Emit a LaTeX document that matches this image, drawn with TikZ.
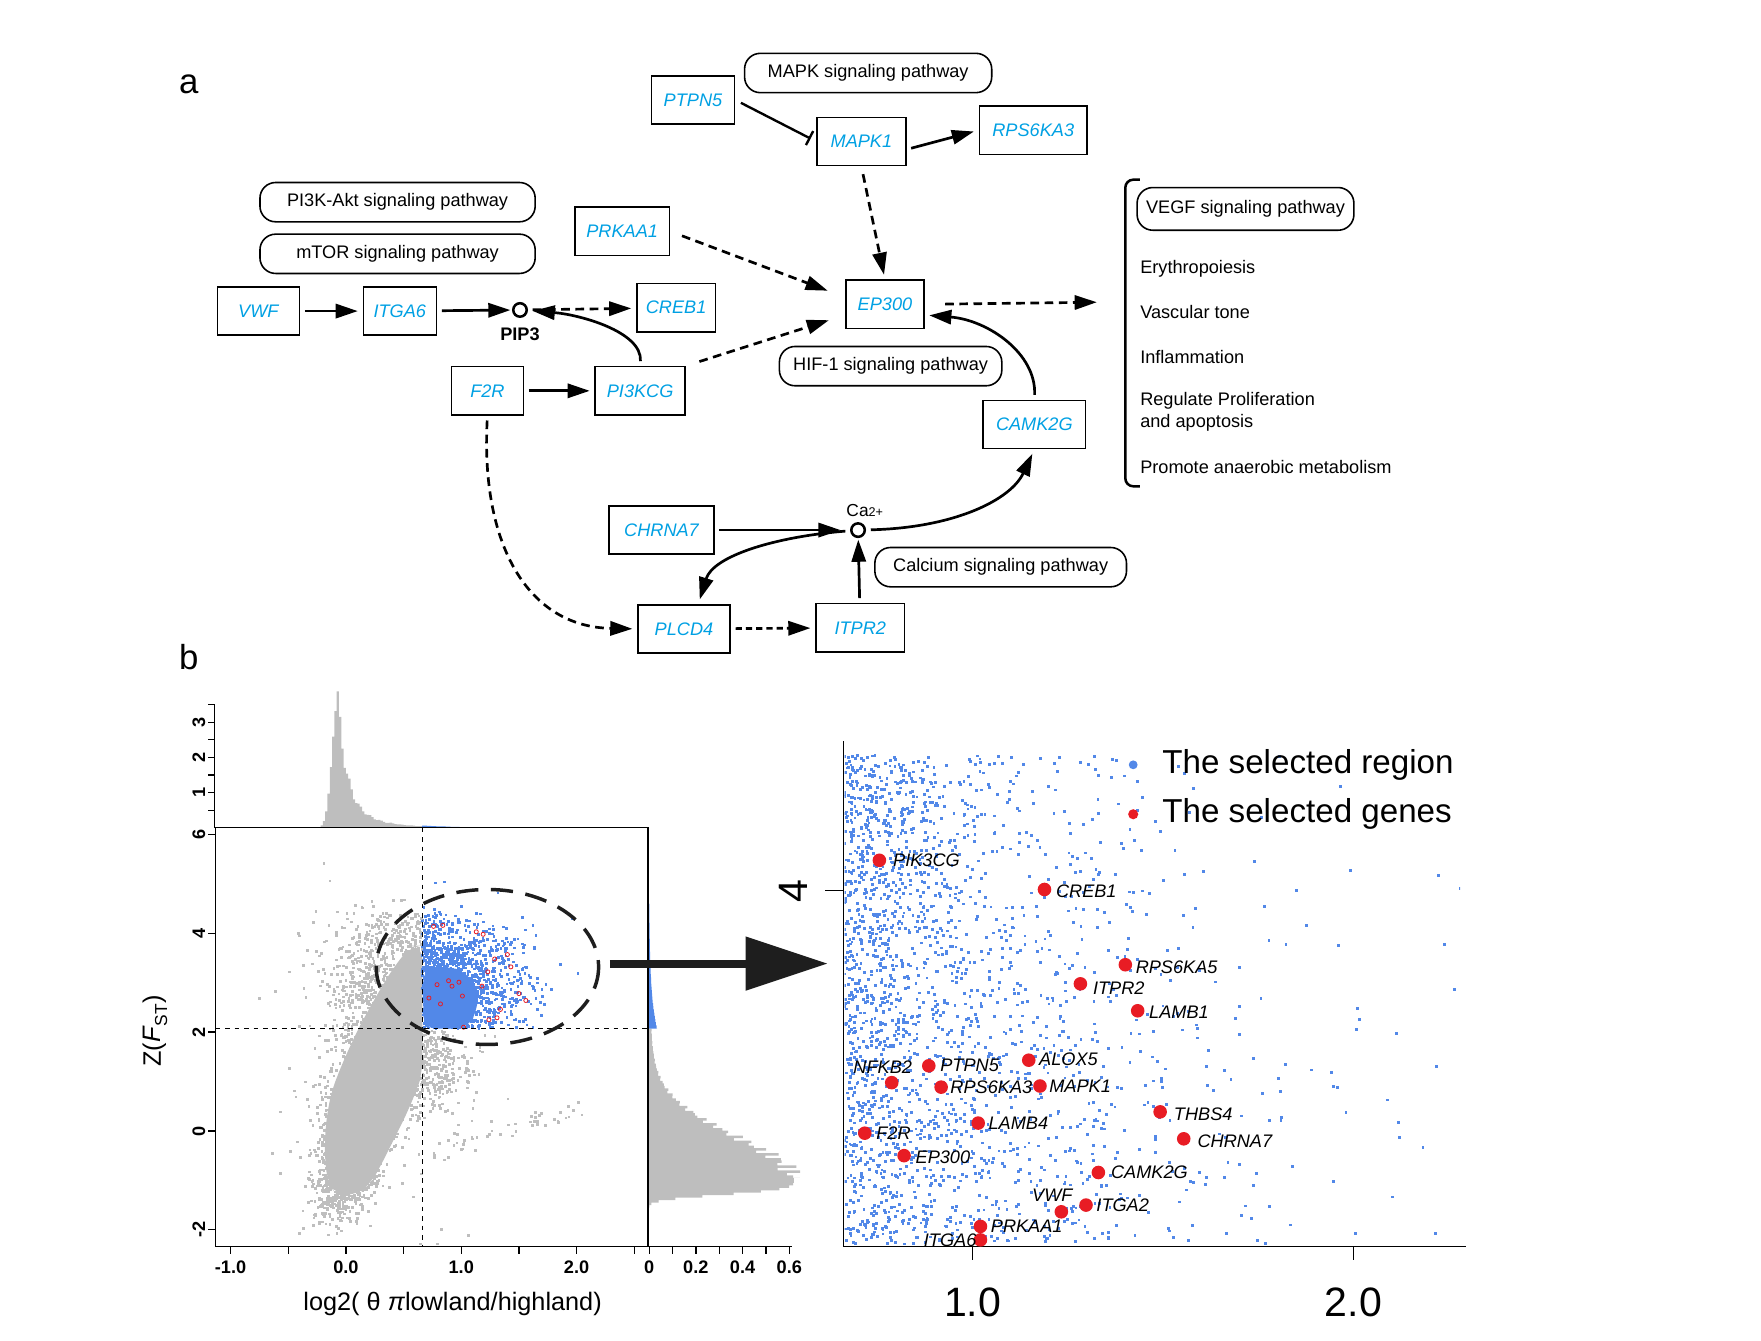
\documentclass[tikz,border=0pt]{standalone}
\usepackage{fontspec}
\setmainfont{Liberation Sans}
\usetikzlibrary{arrows.meta}
\definecolor{GeneClr}{RGB}{0,160,227}
\definecolor{RegionClr}{RGB}{82,136,232}
\definecolor{CloudClr}{RGB}{190,190,190}
\definecolor{GenesClr}{RGB}{232,28,36}
\definecolor{RingClr}{RGB}{30,30,30}

\newcommand{\nrnd}[1]{\pgfmathsetmacro#1{(rnd+rnd+rnd+rnd-2)*1.732}}
\newcommand{\scatpt}{%
  \pgfmathtruncatemacro\sel{(\px>0.66)*(\py>2.07)}%
  \ifnum\sel>0 \def\ptclr{RegionClr}\else\def\ptclr{CloudClr}\fi
  \fill[fill=\ptclr] ({308+102.7*(\px)},{1007-44*(\py)}) ++(-0.85pt,-0.85pt) rectangle ++(1.7pt,1.7pt);}

\tikzset{
  gene/.style={draw, line width=1pt, minimum height=1.075cm, inner sep=2pt, text=GeneClr,
    font=\fontsize{11.5}{13}\selectfont\itshape},
  pathway/.style={draw, line width=1pt, rounded corners=0.35cm, minimum height=0.875cm,
    font=\fontsize{11.5}{13}\selectfont},
  effect/.style={anchor=west, inner sep=0pt, align=left, font=\fontsize{11.5}{14}\selectfont},
  hub/.style={circle, draw, line width=1.6pt, minimum size=0.3cm, inner sep=0pt},
  act/.style={line width=1.7pt, -{Triangle[length=14pt,width=9pt]}, shorten <=3pt, shorten >=3pt},
  dashact/.style={act, dash pattern=on 5.5pt off 3.5pt},
  inhib/.style={line width=1.5pt, -{Bar[width=10pt]}, shorten <=4pt, shorten >=4pt},
  ticklbl/.style={font=\fontsize{11.5}{13}\selectfont\bfseries, inner sep=1pt},
  genelbl/.style={font=\fontsize{11.5}{13}\selectfont\itshape, inner sep=0pt},
  biglbl/.style={font=\fontsize{26}{28}\selectfont, inner sep=1pt},
}

\begin{document}
\begin{tikzpicture}[x=0.025cm, y=-0.025cm]
\useasboundingbox (0,0) rectangle (1568,1194);
\pgfmathsetseed{2718}

\node[font=\fontsize{22}{24}\selectfont] (lbla) at (168,75) {a};
\node[font=\fontsize{22}{24}\selectfont] (lblb) at (168,585) {b};

% genes
\node[gene, minimum width=1.85cm] (ptpn5) at (617,89) {PTPN5};
\node[gene, minimum width=1.975cm] (mapk1) at (767,126) {MAPK1};
\node[gene, minimum width=2.4cm] (rps6ka3) at (920,116) {RPS6KA3};
\node[gene, minimum width=2.1cm] (prkaa1) at (554,206) {PRKAA1};
\node[gene, minimum width=1.825cm] (vwf) at (230,277) {VWF};
\node[gene, minimum width=1.625cm] (itga6) at (356,277) {ITGA6};
\node[gene, minimum width=1.75cm] (creb1) at (602,274) {CREB1};
\node[gene, minimum width=1.725cm] (ep300) at (788,271) {EP300};
\node[gene, minimum width=1.6cm] (f2r) at (434,348) {F2R};
\node[gene, minimum width=2cm] (pi3kcg) at (570,348) {PI3KCG};
\node[gene, minimum width=2.275cm] (camk2g) at (921,378) {CAMK2G};
\node[gene, minimum width=2.325cm] (chrna7) at (589,472) {CHRNA7};
\node[gene, minimum width=2.05cm] (plcd4) at (609,560) {PLCD4};
\node[gene, minimum width=1.975cm] (itpr2) at (766,559) {ITPR2};

% pathways
\node[pathway, minimum width=5.5cm] (mapkpw) at (773,65) {MAPK signaling pathway};
\node[pathway, minimum width=6.125cm] (pi3kpw) at (354,180) {PI3K-Akt signaling pathway};
\node[pathway, minimum width=6.125cm] (mtorpw) at (354,226) {mTOR signaling pathway};
\node[pathway, minimum width=4.95cm] (hifpw) at (793,326) {HIF-1 signaling pathway};
\node[pathway, minimum width=5.6cm] (calpw) at (891,505) {Calcium signaling pathway};
\node[pathway, minimum width=4.825cm, minimum height=0.95cm] (vegfpw) at (1109,186) {VEGF signaling pathway};

\node[hub] (pip3) at (463,276) {};
\node[font=\fontsize{11.5}{13}\selectfont\bfseries] (pip3lbl) at (463,298) {PIP3};
\node[hub] (ca) at (764,472) {};
\node[font=\fontsize{11}{13}\selectfont, inner sep=0pt] (calbl) at (770,455) {Ca{\fontsize{8}{9}\selectfont 2+}};

\node[effect] (eff1) at (1015,239) {Erythropoiesis};
\node[effect] (eff2) at (1015,278) {Vascular tone};
\node[effect] (eff3) at (1015,318) {Inflammation};
\node[effect] (eff4) at (1015,367) {Regulate Proliferation\\and apoptosis};
\node[effect] (eff5) at (1015,416) {Promote anaerobic metabolism};
\draw[line width=1.6pt, rounded corners=5pt] (1015,160) -- (1002,160) -- (1002,433) -- (1015,433);
\coordinate (brk) at (985,269);

\draw[inhib] (ptpn5.east) -- (mapk1.west);
\draw[act] (mapk1.-10) -- (rps6ka3.west);
\draw[dashact, shorten <=5pt] (mapk1.south) -- (ep300.north);
\draw[dashact, shorten <=8pt, shorten >=12pt] (prkaa1.east) -- (ep300.170);
\draw[dashact, shorten <=9pt, shorten >=11pt] (pi3kcg.north east) -- (ep300.195);
\draw[dashact, shorten <=13pt, shorten >=6pt] (ep300.east) -- (brk);
\draw[act] (vwf) -- (itga6);
\draw[act, shorten >=1pt] (itga6) -- (pip3);
\draw[dashact] (pip3) -- (creb1);
\draw[act] (pi3kcg.north) .. controls (572,295) and (515,280) .. (pip3);
\draw[act] (f2r) -- (pi3kcg);
\draw[act] (camk2g.north) .. controls (923,315) and (880,285) .. (ep300.-15);
\draw[dashact] (f2r.south) .. controls (428,485) and (470,558) .. (plcd4.west);
\draw[act, shorten >=6pt] (chrna7) -- (ca);
\draw[act] (ca) .. controls (850,470) and (900,445) .. (camk2g.south);
\draw[act] (ca) .. controls (690,478) and (635,495) .. (plcd4.60);
\draw[act, shorten >=1pt] (itpr2) -- (ca);
\draw[dashact, dash pattern=on 4pt off 2.5pt] (plcd4) -- (itpr2);

% histograms
\fill[CloudClr] (271,737) -- plot[const plot, domain=-0.36:-0.08, samples=15]
  ({308+102.7*(\x)},{737-31.3*3.6*exp(-((\x+0.08)/0.07)*((\x+0.08)/0.07))})
  -- plot[const plot, domain=-0.08:0.66, samples=38]
  ({308+102.7*(\x)},{737-31.3*(2.6*exp(-(\x+0.08)/0.07)+exp(-(\x+0.08)/0.2)+0.04*exp(-(\x)/0.8))*(1+0.1*sin(4000*(\x)))})
  -- (376,737) -- cycle;
\fill[RegionClr] (376,737) -- plot[const plot, domain=0.66:1.6, samples=24]
  ({308+102.7*(\x)},{737-31.3*0.06*exp(-(\x-0.66)/0.3)}) -- (473,737) -- cycle;
\fill[CloudClr] (578,1075) -- plot[const plot, variable=\t, domain=-1.55:-0.95, samples=13]
  ({578+208*0.62*exp(-(((\t+0.95)/0.35)*((\t+0.95)/0.35))*(((\t+0.95)/0.35)*((\t+0.95)/0.35)))},{1007-44*(\t)})
  -- plot[const plot, variable=\t, domain=-0.95:2.07, samples=61]
  ({578+208*(0.56*exp(-((\t+0.95)/1.2)*((\t+0.95)/1.2))+0.06*exp(-(\t+0.95)/1.6))*(1+0.08*sin(3000*(\t)))},{1007-44*(\t)})
  -- (578,916) -- cycle;
\fill[RegionClr] (578,916) -- plot[const plot, variable=\t, domain=2.07:4.6, samples=40]
  ({578+208*0.035*exp(-(\t-2.07)/0.7)},{1007-44*(\t)}) -- (578,805) -- cycle;

% scatter
\begin{scope}
\clip (192,737) rectangle (577,1110);
\fill[CloudClr, rounded corners=8pt] (300,1064) -- (318,1064) -- (330,1054) -- (340,1036)
  -- (352,1012) -- (362,992) -- (372,968) -- (376,955) -- (376,842) -- (366,842) -- (350,862)
  -- (335,887) -- (320,914) -- (306,944) -- (295,972) -- (290,1000) -- (289,1030) -- (292,1054) -- cycle;
\fill[RegionClr, rounded corners=8pt] (377,916) -- (416,916) -- (425,900) -- (426,881)
  -- (416,866) -- (398,860) -- (377,862) -- cycle;
\foreach \i in {1,...,1250}{\nrnd\na \nrnd\nb
  \pgfmathsetmacro\py{-0.7+0.5*\nb}
  \pgfmathsetmacro\px{0.03+0.13*\na+0.12*(\py+0.7)}
  \scatpt}
\foreach \i in {1,...,1150}{\nrnd\na
  \pgfmathsetmacro\py{-0.5+4.9*rnd}
  \pgfmathsetmacro\px{0.06+0.1*(\py+0.5)+0.21*\na}
  \scatpt}
\foreach \i in {1,...,350}{\nrnd\na \nrnd\nb
  \pgfmathsetmacro\py{1.3+0.45*\nb}
  \pgfmathsetmacro\px{0.55+0.25*abs(\na)}
  \scatpt}
\foreach \i in {1,...,300}{\nrnd\na \nrnd\nb
  \pgfmathsetmacro\py{3.0+0.7*\nb}
  \pgfmathsetmacro\px{0.2+0.22*\na}
  \scatpt}
\foreach \i in {1,...,200}{\nrnd\na \nrnd\nb
  \pgfmathsetmacro\py{1.4+1.5*\nb}
  \pgfmathsetmacro\px{0.25+0.4*\na}
  \scatpt}
\foreach \i in {1,...,50}{\nrnd\nb
  \pgfmathsetmacro\pu{rnd}
  \pgfmathsetmacro\px{0.75+1.3*\pu}
  \pgfmathsetmacro\py{-0.45+0.95*\pu+0.12*\nb}
  \scatpt}
\foreach \i in {1,...,1200}{\nrnd\na \nrnd\nb
  \pgfmathsetmacro\px{0.665+0.42*abs(\na)}
  \pgfmathsetmacro\py{3.05+0.55*\nb}
  \pgfmathsetmacro\py{\py<2.07 ? 4.14-\py : \py}
  \scatpt}
\foreach \gx/\gy in {0.76/4.14,0.84/4.16,1.13/4.03,1.19/3.98,1.40/3.57,1.29/3.48,1.43/3.32,
  1.23/3.22,0.89/3.04,0.98/3.01,0.79/2.96,0.92/2.93,1.18/2.93,1.50/2.78,1.01/2.73,0.72/2.69,
  0.82/2.57,1.56/2.64,1.34/2.46,1.31/2.29,1.24/2.25,1.02/2.10}
  \draw[GenesClr, line width=0.5pt] ({308+102.7*\gx},{1007-44*\gy}) circle[radius=1.3pt];
\end{scope}

\draw[line width=0.8pt] (192,737) rectangle (577,1110);
\draw[dashed, line width=0.6pt] (376,737) -- (376,1110);
\draw[dashed, line width=0.6pt] (192,916) -- (577,916);

% axes
\draw[line width=0.8pt] (191,628) -- (191,737);
\foreach \v in {0.5,1,...,3.5} \draw[line width=0.8pt] (191,{737-31.3*\v}) -- (185,{737-31.3*\v});
\foreach \v in {1,2,3} \node[ticklbl, rotate=90] (hl\v) at (177,{737-31.3*\v}) {\v};
\foreach \v in {-2,0,2,4,6}{
  \draw[line width=0.8pt] (192,{1007-44*\v}) -- (185,{1007-44*\v});
  \node[ticklbl, rotate=90] (yl\v) at (177,{1007-44*\v}) {\v};}
\foreach \v in {-1,-0.5,...,2.5} \draw[line width=0.8pt] ({308+102.7*\v},1110) -- ({308+102.7*\v},1117);
\foreach \v/\s in {-1/-1.0,0/0.0,1/1.0,2/2.0} \node[ticklbl] (xl\v) at ({308+102.7*\v},1128) {\s};
\draw[line width=0.8pt] (578,1110) -- (705,1110);
\foreach \v in {0,0.1,...,0.61} \draw[line width=0.8pt] ({578+208*\v},1110) -- ({578+208*\v},1117);
\foreach \v/\s in {0/0,0.2/0.2,0.4/0.4,0.6/0.6} \node[ticklbl] (hx\s) at ({578+208*\v},1128) {\s};
\node[font=\fontsize{16}{18}\selectfont] (xlab) at (403,1161) {log2( θ \textit{π}lowland/highland)};
\node[font=\fontsize{16}{18}\selectfont, rotate=90] (ylab) at (138,918)
  {Z(\textit{F}\raisebox{-0.25em}{\fontsize{11}{12}\selectfont ST})};

\draw[RingClr, line width=2.2pt, dash pattern=on 14pt off 8pt] (434,861) ellipse[x radius=99, y radius=69];
\coordinate (ellE) at (543,858);
\coordinate (zoomW) at (737,858);
\draw[RingClr, line width=5pt, -{Triangle[length=52pt,width=33pt]}] (ellE) -- (zoomW);

% zoomed panel
\begin{scope}
\clip (752,668) rectangle (1300,1108);
\foreach \i in {1,...,2200}{
  \pgfmathsetmacro\pu{rnd}
  \pgfmathsetmacro\py{672+436*\pu}
  \pgfmathsetmacro\px{752-(70+60*\pu)*ln(0.001+0.999*rnd)}
  \fill[RegionClr] (\px,\py) ++(-0.9pt,-0.9pt) rectangle ++(1.8pt,1.8pt);}
\end{scope}
\draw[line width=1pt] (751,660) -- (751,1110) -- (1305,1110);
\draw[line width=1pt] (866,1110) -- (866,1122);
\draw[line width=1pt] (1205,1110) -- (1205,1122);
\draw[line width=1pt] (735,793) -- (751,793);
\node[biglbl] (zx1) at (866,1160) {1.0};
\node[biglbl] (zx2) at (1205,1160) {2.0};
\node[biglbl, rotate=90] (zy4) at (706,793) {4};

\foreach \dx/\dy/\lx/\ly/\gname in {783/766/795/766/PIK3CG, 930/792/940/794/CREB1,
  1002/859/1011/861/RPS6KA5, 962/876/973/880/ITPR2, 1013/900/1023/901/LAMB1,
  916/944/925/943/ALOX5, 827/949/837/949/PTPN5, 838/968/846/968/RPS6KA3,
  926/967/934/967/MAPK1, 1033/990/1045/992/THBS4, 1054/1014/1066/1016/CHRNA7,
  871/1000/880/1000/LAMB4, 770/1009/780/1009/F2R, 805/1029/815/1030/EP300,
  978/1044/989/1044/CAMK2G, 967/1073/976/1073/ITGA2, 873/1092/882/1092/PRKAA1}{
  \fill[GenesClr] (\dx,\dy) circle[radius=4.3pt];
  \node[genelbl, anchor=west] (lbl\gname) at (\lx,\ly) {\gname};}
\fill[GenesClr] (794,964) circle[radius=4.3pt];
\node[genelbl] (lblNFKB2) at (786,950) {NFKB2};
\fill[GenesClr] (945,1079) circle[radius=4.3pt];
\node[genelbl] (lblVWF) at (937,1064) {VWF};
\fill[GenesClr] (873,1104) circle[radius=4.3pt];
\node[genelbl] (lblITGA6) at (846,1104) {ITGA6};

\fill[RegionClr] (1009,681) circle[radius=2.8pt];
\node[anchor=west, font=\fontsize{21}{24}\selectfont] (legreg) at (1030,681) {The selected region};
\fill[GenesClr] (1009,725) circle[radius=3.2pt];
\node[anchor=west, font=\fontsize{21}{24}\selectfont] (leggen) at (1030,725) {The selected genes};

\end{tikzpicture}
\end{document}
